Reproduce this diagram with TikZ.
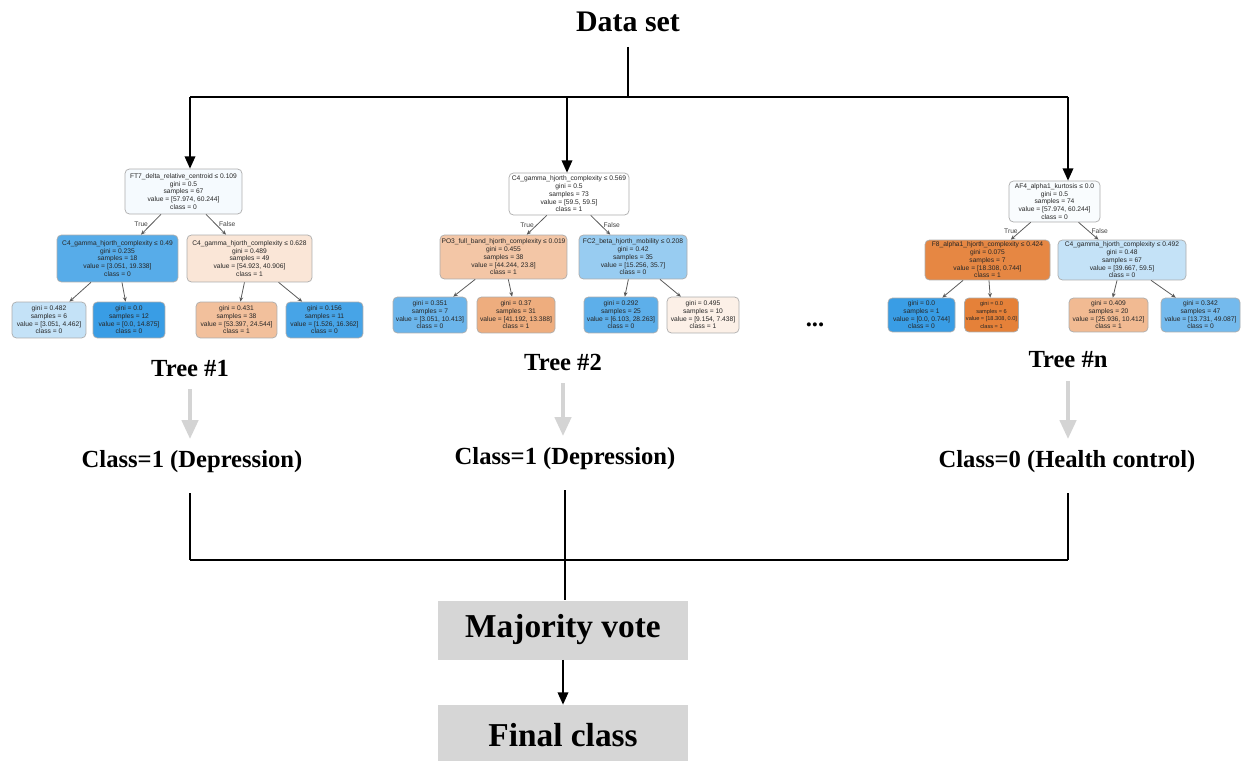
\documentclass[tikz,border=0pt]{standalone}
\usepackage{fontspec}
\setmainfont{Liberation Serif}
\setsansfont{Liberation Sans}
\usetikzlibrary{arrows.meta,positioning}

\definecolor{clsblue}{HTML}{399DE5}
\definecolor{clsorange}{HTML}{E58139}

\tikzset{
  dtnode/.style={draw=gray!65, rounded corners=2.5pt, align=center, inner sep=0.8pt,
    font=\sffamily\fontsize{3.8}{4.4}\selectfont, text=black!85},
  dtedge/.style={-{Stealth[length=2.6pt,width=2.2pt]}, black!65, line width=0.45pt},
  edgelbl/.style={font=\sffamily\fontsize{3.8}{4}\selectfont, text=black!75, inner sep=1.5pt},
  headlbl/.style={font=\bfseries\fontsize{17}{19}\selectfont},
  treelbl/.style={font=\bfseries\fontsize{14}{16}\selectfont},
  splitarrow/.style={-{Triangle[length=7pt,width=6pt]}, line width=1pt},
  grayarrow/.style={-{Triangle[length=11pt,width=9pt]}, black!17, line width=2.8pt},
  votebox/.style={fill=black!16, minimum width=5cm, minimum height=1.18cm,
    font=\bfseries\fontsize{19}{21}\selectfont}
}

\begin{document}
\begin{tikzpicture}[x=0.02cm, y=-0.02cm]
    \useasboundingbox (0,0) rectangle (1243,760);

    % Data set and split
    \node[headlbl] (data) at (628,22) {Data set};
    \coordinate (bar) at (628,97);
    \coordinate (b1) at (190,97);
    \coordinate (b2) at (567,97);
    \coordinate (bn) at (1068,97);
    \draw[line width=0.6pt, shorten <=5pt] (data.south) -- (bar);
    \draw[line width=1.6pt] (b1) -- (bn);

    % Tree #1
    \node[dtnode, fill=clsblue!5, minimum width=2.34cm, minimum height=0.9cm] (t1r) at (183.5,191.5)
      {FT7\_delta\_relative\_centroid ≤ 0.109\\gini = 0.5\\samples = 67\\value = [57.974, 60.244]\\class = 0};
    \node[dtnode, fill=clsblue!85, minimum width=2.42cm, minimum height=0.94cm] (t1a) at (117.5,258.5)
      {C4\_gamma\_hjorth\_complexity ≤ 0.49\\gini = 0.235\\samples = 18\\value = [3.051, 19.338]\\class = 0};
    \node[dtnode, fill=clsorange!20, minimum width=2.5cm, minimum height=0.94cm] (t1b) at (249.5,258.5)
      {C4\_gamma\_hjorth\_complexity ≤ 0.628\\gini = 0.489\\samples = 49\\value = [54.923, 40.906]\\class = 1};
    \node[dtnode, fill=clsblue!30, minimum width=1.48cm, minimum height=0.72cm] (t1c) at (49,320)
      {gini = 0.482\\samples = 6\\value = [3.051, 4.462]\\class = 0};
    \node[dtnode, fill=clsblue, minimum width=1.44cm, minimum height=0.72cm] (t1d) at (129,320)
      {gini = 0.0\\samples = 12\\value = [0.0, 14.875]\\class = 0};
    \node[dtnode, fill=clsorange!50, minimum width=1.62cm, minimum height=0.72cm] (t1e) at (236.5,320)
      {gini = 0.431\\samples = 38\\value = [53.397, 24.544]\\class = 1};
    \node[dtnode, fill=clsblue!93, minimum width=1.54cm, minimum height=0.72cm] (t1f) at (324.5,320)
      {gini = 0.156\\samples = 11\\value = [1.526, 16.362]\\class = 0};
    \draw[dtedge] (t1r) -- node[edgelbl, left] {True} (t1a);
    \draw[dtedge] (t1r) -- node[edgelbl, right] {False} (t1b);
    \draw[dtedge] (t1a) -- (t1c);
    \draw[dtedge] (t1a) -- (t1d);
    \draw[dtedge] (t1b) -- (t1e);
    \draw[dtedge] (t1b) -- (t1f);

    % Tree #2
    \node[dtnode, fill=white, minimum width=2.4cm, minimum height=0.84cm] (t2r) at (569,194)
      {C4\_gamma\_hjorth\_complexity ≤ 0.569\\gini = 0.5\\samples = 73\\value = [59.5, 59.5]\\class = 1};
    \node[dtnode, fill=clsorange!45, minimum width=2.54cm, minimum height=0.88cm] (t2a) at (503.5,257)
      {PO3\_full\_band\_hjorth\_complexity ≤ 0.019\\gini = 0.455\\samples = 38\\value = [44.244, 23.8]\\class = 1};
    \node[dtnode, fill=clsblue!52, minimum width=2.16cm, minimum height=0.88cm] (t2b) at (633,257)
      {FC2\_beta\_hjorth\_mobility ≤ 0.208\\gini = 0.42\\samples = 35\\value = [15.256, 35.7]\\class = 0};
    \node[dtnode, fill=clsblue!75, minimum width=1.48cm, minimum height=0.72cm] (t2c) at (430,315)
      {gini = 0.351\\samples = 7\\value = [3.051, 10.413]\\class = 0};
    \node[dtnode, fill=clsorange!65, minimum width=1.56cm, minimum height=0.72cm] (t2d) at (516,315)
      {gini = 0.37\\samples = 31\\value = [41.192, 13.388]\\class = 1};
    \node[dtnode, fill=clsblue!82, minimum width=1.48cm, minimum height=0.72cm] (t2e) at (621,315)
      {gini = 0.292\\samples = 25\\value = [6.103, 28.263]\\class = 0};
    \node[dtnode, fill=clsorange!12, minimum width=1.44cm, minimum height=0.72cm] (t2f) at (703,315)
      {gini = 0.495\\samples = 10\\value = [9.154, 7.438]\\class = 1};
    \draw[dtedge] (t2r) -- node[edgelbl, left] {True} (t2a);
    \draw[dtedge] (t2r) -- node[edgelbl, right] {False} (t2b);
    \draw[dtedge] (t2a) -- (t2c);
    \draw[dtedge] (t2a) -- (t2d);
    \draw[dtedge] (t2b) -- (t2e);
    \draw[dtedge] (t2b) -- (t2f);

    % Tree #n
    \node[dtnode, fill=clsblue!3, minimum width=1.82cm, minimum height=0.82cm] (tnr) at (1054.5,201.5)
      {AF4\_alpha1\_kurtosis ≤ 0.0\\gini = 0.5\\samples = 74\\value = [57.974, 60.244]\\class = 0};
    \node[dtnode, fill=clsorange!95, minimum width=2.5cm, minimum height=0.8cm] (tna) at (987.5,260)
      {F8\_alpha1\_hjorth\_complexity ≤ 0.424\\gini = 0.075\\samples = 7\\value = [18.308, 0.744]\\class = 1};
    \node[dtnode, fill=clsblue!30, minimum width=2.56cm, minimum height=0.8cm] (tnb) at (1122,260)
      {C4\_gamma\_hjorth\_complexity ≤ 0.492\\gini = 0.48\\samples = 67\\value = [39.667, 59.5]\\class = 0};
    \node[dtnode, fill=clsblue, minimum width=1.34cm, minimum height=0.68cm] (tnc) at (921.5,315)
      {gini = 0.0\\samples = 1\\value = [0.0, 0.744]\\class = 0};
    \node[dtnode, fill=clsorange, minimum width=1.06cm, minimum height=0.68cm,
      font=\sffamily\fontsize{3.2}{4.4}\selectfont] (tnd) at (991.5,315)
      {gini = 0.0\\samples = 6\\value = [18.308, 0.0]\\class = 1};
    \node[dtnode, fill=clsorange!55, minimum width=1.58cm, minimum height=0.68cm] (tne) at (1108.5,315)
      {gini = 0.409\\samples = 20\\value = [25.936, 10.412]\\class = 1};
    \node[dtnode, fill=clsblue!70, minimum width=1.58cm, minimum height=0.68cm] (tnf) at (1200.5,315)
      {gini = 0.342\\samples = 47\\value = [13.731, 49.087]\\class = 0};
    \draw[dtedge] (tnr) -- node[edgelbl, left] {True} (tna);
    \draw[dtedge] (tnr) -- node[edgelbl, right] {False} (tnb);
    \draw[dtedge] (tna) -- (tnc);
    \draw[dtedge] (tna) -- (tnd);
    \draw[dtedge] (tnb) -- (tne);
    \draw[dtedge] (tnb) -- (tnf);

    \node[font=\bfseries\fontsize{14}{16}\selectfont] (dots) at (815,325) {...};

    % Arrows into the trees
    \draw[splitarrow] (b1) -- (b1 |- t1r.north);
    \draw[splitarrow] (b2) -- (b2 |- t2r.north);
    \draw[splitarrow] (bn) -- (bn |- tnr.north);

    % Tree labels and predictions
    \node[treelbl] (l1) at (190,368) {Tree \#1};
    \node[treelbl] (l2) at (563,362) {Tree \#2};
    \node[treelbl] (ln) at (1068,360) {Tree \#n};
    \node[treelbl] (c1) at (192,462) {Class=1 (Depression)};
    \node[treelbl] (c2) at (565,459) {Class=1 (Depression)};
    \node[treelbl] (cn) at (1067,462) {Class=0 (Health control)};
    \draw[grayarrow, shorten <=4pt, shorten >=3pt] (l1.south) -- (l1.south |- c1.north);
    \draw[grayarrow, shorten <=4pt, shorten >=3pt] (l2.south) -- (l2.south |- c2.north);
    \draw[grayarrow, shorten <=4pt, shorten >=3pt] (ln.south) -- (ln.south |- cn.north);

    % Voting
    \coordinate (j1) at (190,560);
    \coordinate (j2) at (565,560);
    \coordinate (jn) at (1068,560);
    \draw[line width=0.8pt, shorten <=8pt] (c1.south -| j1) -- (j1);
    \draw[line width=0.8pt, shorten <=8pt] (c2.south -| j2) -- (j2);
    \draw[line width=0.8pt, shorten <=8pt] (cn.south -| jn) -- (jn);
    \draw[line width=1.6pt] (j1) -- (jn);

    \node[votebox] (vote) at (563,630) {Majority vote};
    \node[votebox, minimum height=1.2cm] (final) at (563,735) {Final class};
    \draw[line width=0.8pt] (j2) -- (j2 |- vote.north);
    \draw[splitarrow] (vote) -- (final);
\end{tikzpicture}
\end{document}
